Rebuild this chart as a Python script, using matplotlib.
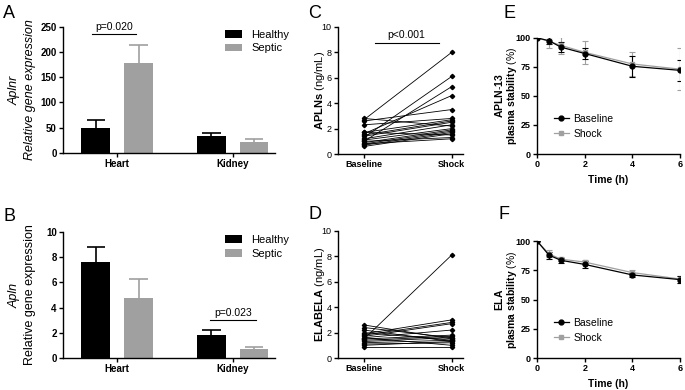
import numpy as np
import matplotlib
matplotlib.use('Agg')
import matplotlib.pyplot as plt
from matplotlib.lines import Line2D

plt.rcParams['font.family'] = ['Liberation Sans', 'DejaVu Sans']
plt.rcParams['mathtext.fontset'] = 'custom'
plt.rcParams['mathtext.rm'] = 'Liberation Sans'
plt.rcParams['mathtext.bf'] = 'Liberation Sans:bold'
plt.rcParams['mathtext.it'] = 'Liberation Sans:italic'

# ---- data ----
groups = ['Heart', 'Kidney']
aplnr_healthy = [50, 33]
aplnr_healthy_err = [15, 6]
aplnr_septic = [178, 22]
aplnr_septic_err = [37, 5]

apln_healthy = [7.6, 1.85]
apln_healthy_err = [1.2, 0.4]
apln_septic = [4.75, 0.75]
apln_septic_err = [1.5, 0.1]

apln_base = [2.7, 1.3, 1.0, 1.6, 2.6, 2.8, 2.3, 1.7, 1.5, 1.4, 1.2, 1.1, 0.9, 0.8, 0.7, 0.6, 1.7, 1.0, 0.8]
apln_shock = [8.0, 6.1, 5.3, 4.6, 3.5, 2.2, 2.8, 2.7, 2.6, 2.5, 2.3, 2.0, 1.9, 1.8, 1.7, 1.6, 1.5, 1.3, 1.2]

ela_base = [1.5, 2.6, 2.4, 2.2, 2.0, 1.9, 1.8, 1.7, 1.6, 1.5, 1.4, 1.3, 1.2, 1.1, 1.0, 0.9, 1.6]
ela_shock = [8.1, 1.5, 1.6, 1.3, 1.4, 3.0, 2.8, 2.7, 2.2, 1.8, 1.7, 1.6, 1.4, 1.2, 1.3, 0.9, 1.0]

time_h = [0, 0.5, 1, 2, 4, 6]
e_base = [100, 97.5, 92, 86.5, 75.5, 72]
e_base_err = [0, 3, 4, 5, 9, 9]
e_shock = [100, 97, 93.5, 87.5, 77.5, 73]
e_shock_err = [0, 6, 7, 10, 10, 18]
f_base = [100, 88, 83.5, 80, 71, 67]
f_base_err = [0, 3, 2, 3, 2, 3]
f_shock = [100, 89, 84.5, 82, 73, 67.5]
f_shock_err = [0, 3, 2, 2, 2, 3]

grey = '#a0a0a0'
narrow = ['Liberation Sans Narrow', 'Liberation Sans']

fig = plt.figure(figsize=(6.85, 3.9), dpi=100)


def style(ax, bold=True, size=7):
    for s in ['top', 'right']:
        ax.spines[s].set_visible(False)
    for s in ['left', 'bottom']:
        ax.spines[s].set_linewidth(1.0)
    ax.tick_params(direction='out', length=3, width=1.0, labelsize=size, pad=1.5)
    if bold:
        for t in ax.get_yticklabels():
            t.set_fontweight('bold')


def bar_panel(rect, h, herr, s, serr, ymax, ystep, ylab1, ylab2, italic2, sig, sigx, sigy):
    ax = fig.add_axes(rect)
    x = np.arange(len(groups))
    off = 0.185
    w = 0.25
    ax.bar(x - off, h, w, color='black', label='Healthy', zorder=2)
    ax.bar(x + off, s, w, color=grey, label='Septic', zorder=2)
    # upper error bars only
    for xs, vals, errs, c in [(x - off, h, herr, 'black'), (x + off, s, serr, grey)]:
        tops = np.array(vals) + np.array(errs)
        ax.vlines(xs, vals, tops, color=c, lw=1.2, zorder=1)
        ax.hlines(tops, xs - 0.08, xs + 0.08, color=c, lw=1.2, zorder=1)
    ax.set_xlim(-0.47, 1.37)
    ax.set_ylim(0, ymax)
    ax.set_yticks(np.arange(0, ymax + ystep / 2, ystep))
    ax.set_xticks(x)
    ax.set_xticklabels(groups, fontweight='bold', fontsize=8)
    style(ax)
    ax.plot(sigx, [sigy, sigy], color='black', lw=0.8)
    ax.text(np.mean(sigx), sigy + ymax * 0.015, sig, ha='center', va='bottom', fontsize=7.5)
    ax.text(-0.155, 0.5, ylab2, transform=ax.transAxes, rotation=90, ha='center',
            va='center', fontsize=9, style='italic' if italic2 else 'normal')
    ax.text(-0.228, 0.5, ylab1, transform=ax.transAxes, rotation=90, ha='center',
            va='center', fontsize=9, style='italic')
    ax.legend(loc='upper left', bbox_to_anchor=(0.74, 1.01), frameon=False,
              fontsize=8, handlelength=1.6, handleheight=0.7, labelspacing=0.3,
              borderaxespad=0)
    return ax


axA = bar_panel([0.092, 0.608, 0.31, 0.323], aplnr_healthy, aplnr_healthy_err,
                aplnr_septic, aplnr_septic_err, 250, 50, 'Aplnr',
                'Relative gene expression', True, 'p=0.020', [-0.215, 0.16], 236)
axB = bar_panel([0.092, 0.082, 0.31, 0.323], apln_healthy, apln_healthy_err,
                apln_septic, apln_septic_err, 10, 2, 'Apln',
                'Relative gene expression', False, 'p=0.023', [0.8, 1.2], 3.0)

axC = fig.add_axes([0.493, 0.605, 0.183, 0.326])
axD = fig.add_axes([0.493, 0.082, 0.183, 0.326])
for ax, base, shock, name, sig in [
        (axC, apln_base, apln_shock, r'$\mathbf{APLNs}$ (ng/mL)', 'p<0.001'),
        (axD, ela_base, ela_shock, r'$\mathbf{ELABELA}$ (ng/mL)', None)]:
    for b, s in zip(base, shock):
        ax.plot([0, 1], [b, s], color='black', lw=0.6, marker='D', markersize=2.2)
    ax.set_xlim(-0.3, 1.13)
    ax.set_ylim(0, 10)
    ax.set_yticks(range(0, 11, 2))
    ax.set_xticks([0, 1])
    ax.set_xticklabels(['Baseline', 'Shock'], fontweight='bold', fontsize=7.5, family=narrow)
    style(ax, bold=False, size=6.5)
    for t in ax.get_yticklabels():
        t.set_family(narrow)
    if sig:
        ax.plot([0.12, 0.85], [8.75, 8.75], color='black', lw=0.8)
        ax.text(0.485, 8.95, sig, ha='center', va='bottom', fontsize=7.5)
    ax.text(-0.145, 0.5, name, transform=ax.transAxes, rotation=90, ha='center',
            va='center', fontsize=8)


def stab_panel(rect, b, berr, s, serr, name):
    ax = fig.add_axes(rect)
    ax.errorbar(time_h, s, yerr=serr, color=grey, marker='s', markersize=3.5,
                lw=0.9, elinewidth=0.8, capsize=2.5, capthick=0.8)
    ax.errorbar(time_h, b, yerr=berr, color='black', marker='o', markersize=3.5,
                lw=0.9, elinewidth=0.8, capsize=2.5, capthick=0.8)
    ax.set_xlim(0, 6)
    ax.set_ylim(0, 100)
    ax.set_xticks([0, 2, 4, 6])
    ax.set_yticks([0, 25, 50, 75, 100])
    style(ax, bold=False, size=6.5)
    for t in ax.get_xticklabels() + ax.get_yticklabels():
        t.set_fontweight('bold')
        t.set_family(narrow)
    ax.set_xlabel('Time (h)', fontsize=7.5, fontweight='bold', family=narrow, labelpad=4)
    ax.text(-0.215, 0.5, name + '\n' + r'$\mathbf{plasma\ stability}$ (%)',
            transform=ax.transAxes, rotation=90, ha='center', va='center',
            fontsize=7.5, multialignment='center', linespacing=1.0)
    handles = [Line2D([], [], color='black', marker='o', markersize=3.5, lw=0.9),
               Line2D([], [], color=grey, marker='s', markersize=3.5, lw=0.9)]
    ax.legend(handles, ['Baseline', 'Shock'], loc='lower left', bbox_to_anchor=(0.05, 0.05),
              frameon=False, handlelength=1.5, labelspacing=0.5, handletextpad=0.4,
              prop={'family': narrow, 'size': 7.5})
    return ax


axE = stab_panel([0.784, 0.605, 0.209, 0.298], e_base, e_base_err, e_shock, e_shock_err,
                 r'$\mathbf{APLN}$-$\mathbf{13}$')
axF = stab_panel([0.784, 0.082, 0.209, 0.30], f_base, f_base_err, f_shock, f_shock_err,
                 r'$\mathbf{ELA}$')

for lab, x, y in [('A', 0.005, 0.965), ('B', 0.005, 0.445), ('C', 0.45, 0.965),
                  ('D', 0.45, 0.45), ('E', 0.735, 0.965), ('F', 0.728, 0.45)]:
    fig.text(x, y, lab, fontsize=13, ha='left', va='center')

fig.savefig('out.png', dpi=100)
